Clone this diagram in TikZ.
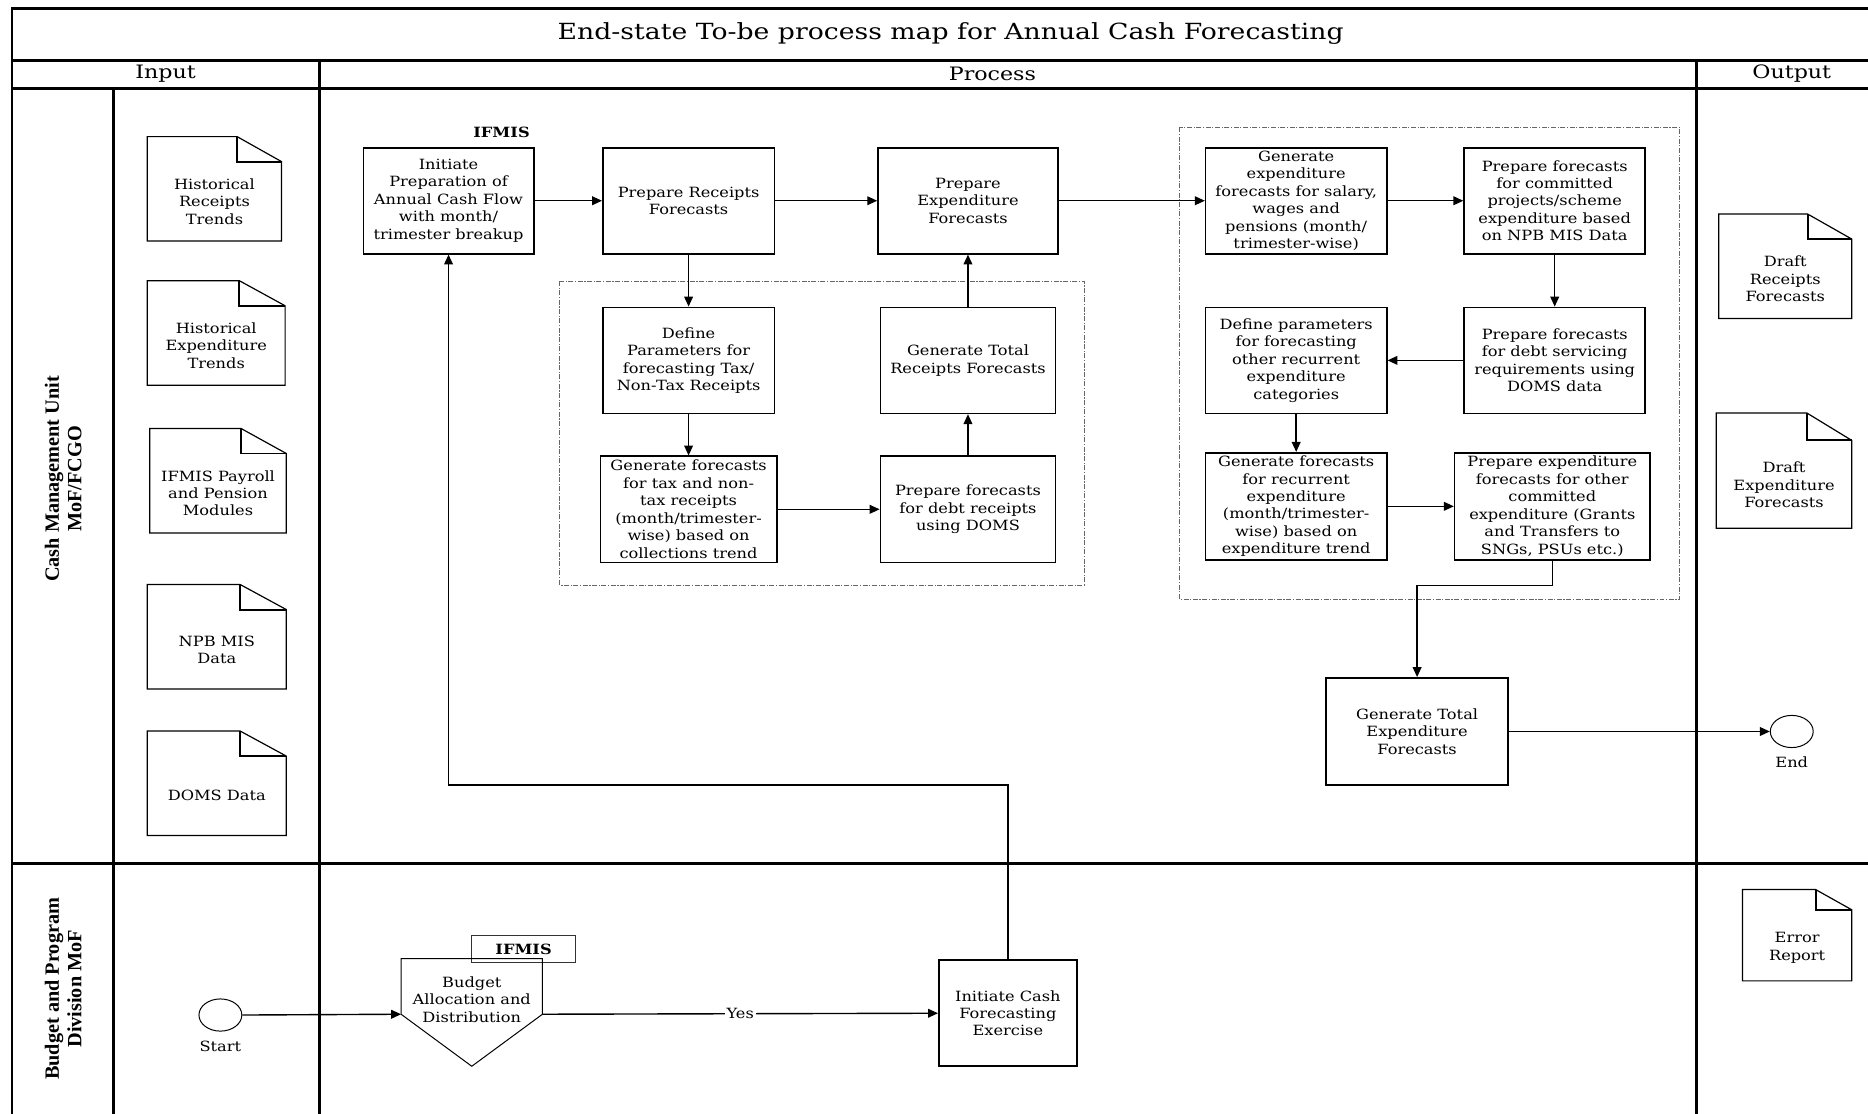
\documentclass[tikz,border=0pt]{standalone}
\usepackage{fontspec}
\setmainfont{DejaVu Serif}
\newfontfamily\bodyfam{DejaVu Serif}[FakeStretch=1.15]
\newfontfamily\titlefam{DejaVu Serif}[FakeStretch=1.2]
\newfontfamily\lanefam{Liberation Serif}
\usetikzlibrary{arrows.meta,calc,shapes.geometric}

% document symbol with a folded top-right corner:
% name, centre x, centre y, width, height, text y, text, fold depth
\newcommand\docnode[8]{%
  \node[docframe={#4}{#5}] (#1) at (#2,#3) {};
  \node[doctext] (#1-t) at (#2,#6) {#7};
  \draw[docline] (#1.south west) -- (#1.north west)
    -- ($(#1.north east)+(-#4/3,0)$) -- ($(#1.north east)+(0,#8)$)
    -- (#1.south east) -- cycle;
  \draw[foldline] ($(#1.north east)+(-#4/3,0)$) -- ($(#1.north east)+(-#4/3,#8)$)
    -- ($(#1.north east)+(0,#8)$);
}

\begin{document}
\begin{tikzpicture}[x=0.6pt,y=-0.6pt,
  body/.style={font=\bodyfam\fontsize{7.1pt}{8.8pt}\selectfont},
  boldbody/.style={font=\bodyfam\bfseries\fontsize{7.1pt}{8.8pt}\selectfont},
  frameline/.style={line width=1.4pt, line cap=rect},
  pbox/.style 2 args={draw, line width=0.8pt, body, align=center, inner sep=0pt,
    minimum width={#1*0.6pt}, minimum height={#2*0.6pt}},
  flow/.style={line width=0.7pt, -{Triangle[length=5pt,width=4.4pt]}},
  group/.style={draw=black!60, line width=0.45pt,
    dash pattern=on 2.5pt off 0.8pt on 0.6pt off 0.8pt},
  docframe/.style 2 args={inner sep=0pt,
    minimum width={#1*0.6pt}, minimum height={#2*0.6pt}},
  doctext/.style={body, align=center},
  docline/.style={line width=0.6pt},
  foldline/.style={line width=1pt},
  event/.style={ellipse, draw, line width=0.5pt, inner sep=0pt,
    minimum width={36*0.6pt}, minimum height={27*0.6pt}},
  thinline/.style={line width=0.5pt},
  tagbox/.style={draw=black!80, line width=0.5pt, boldbody, inner sep=0pt,
    minimum width={87*0.6pt}, minimum height={23*0.6pt}},
  titletext/.style={font=\titlefam\fontsize{11.2pt}{13pt}\selectfont},
  headtext/.style={font=\titlefam\fontsize{9.3pt}{10.5pt}\selectfont},
  lanetext/.style={font=\lanefam\bfseries\fontsize{10.2pt}{11.4pt}\selectfont,
    align=center, rotate=90},
  yeslabel/.style={body, fill=white, inner sep=1pt}
]
\useasboundingbox (0,0) rectangle (1568,935);

% swimlane frame
\draw[frameline] (10,940) -- (10,7) -- (1572,7);
\draw[frameline] (10,51) -- (1572,51);
\draw[frameline] (10,74) -- (1572,74);
\draw[frameline] (10,725) -- (1572,725);
\draw[frameline] (95,74) -- (95,940);
\draw[frameline] (268,51) -- (268,940);
\draw[frameline] (1424,51) -- (1424,940);

\node[titletext] (title) at (798,28) {End-state To-be process map for Annual Cash Forecasting};
\node[headtext] (hInput) at (139,62) {Input};
\node[headtext] (hProcess) at (833,62) {Process};
\node[headtext] (hOutput) at (1504,62) {Output};

\node[lanetext] (laneCMU) at (53,402) {Cash Management Unit\\MoF/FCGO};
\node[lanetext] (laneBPD) at (53,830) {Budget and Program\\Division MoF};

% input documents
\docnode{inHRT}{180}{158.5}{112}{87}{169}{Historical\\Receipts\\Trends}{21}
\docnode{inHET}{181.5}{279.5}{115}{87}{290}{Historical\\Expenditure\\Trends}{21}
\docnode{inPay}{183}{403.5}{114}{87}{414}{IFMIS Payroll\\and Pension\\Modules}{21}
\docnode{inNPB}{182}{534.5}{116}{87}{545.5}{NPB MIS\\Data}{21}
\docnode{inDOMS}{182}{657.5}{116}{87}{668}{DOMS Data}{21}

% output documents
\docnode{outRec}{1498.5}{223.5}{111}{87}{234}{Draft\\Receipts\\Forecasts}{21}
\docnode{outExp}{1497.5}{395}{113}{96}{407}{Draft\\Expenditure\\Forecasts}{23}
\docnode{outErr}{1508.5}{785}{91}{76}{795.5}{Error\\Report}{17}

% grouped sub-processes
\draw[group] (470,236) rectangle (910,491);
\draw[group] (990,107) rectangle (1410,503);

% process steps
\node[boldbody] (ifmisTop) at (421,111) {IFMIS};
\node[pbox={143}{89}] (initiate) at (376.5,168.5) {Initiate\\Preparation of\\Annual Cash Flow\\with month/\\trimester breakup};
\node[pbox={144}{89}] (prepRec) at (578,168.5) {Prepare Receipts\\Forecasts};
\node[pbox={151}{89}] (prepExp) at (812.5,168.5) {Prepare\\Expenditure\\Forecasts};
\node[pbox={144}{89}] (defTax) at (578,302.5) {Define\\Parameters for\\forecasting Tax/\\Non-Tax Receipts};
\node[pbox={147}{89}] (totRec) at (812.5,302.5) {Generate Total\\Receipts Forecasts};
\node[pbox={148}{89}] (genTax) at (578,427.5) {Generate forecasts\\for tax and non-\\tax receipts\\(month/trimester-\\wise) based on\\collections trend};
\node[pbox={147}{89}] (debtRec) at (812.5,427.5) {Prepare forecasts\\for debt receipts\\using DOMS};
\node[pbox={152}{89}] (salary) at (1088,168.5) {Generate\\expenditure\\forecasts for salary,\\wages and\\pensions (month/\\trimester-wise)};
\node[pbox={152}{89}] (committed) at (1305,168.5) {Prepare forecasts\\for committed\\projects/scheme\\expenditure based\\on NPB MIS Data};
\node[pbox={152}{89}] (defRec) at (1088,302.5) {Define parameters\\for forecasting\\other recurrent\\expenditure\\categories};
\node[pbox={152}{89}] (debtServ) at (1305,302.5) {Prepare forecasts\\for debt servicing\\requirements using\\DOMS data};
\node[pbox={152}{90}] (genRec) at (1088,425) {Generate forecasts\\for recurrent\\expenditure\\(month/trimester-\\wise) based on\\expenditure trend};
\node[pbox={164}{90}] (otherCom) at (1303,425) {Prepare expenditure\\forecasts for other\\committed\\expenditure (Grants\\and Transfers to\\SNGs, PSUs etc.)};
\node[pbox={153}{90}] (totExp) at (1189.5,614) {Generate Total\\Expenditure\\Forecasts};
\node[event, label={[body, label distance=1pt]below:End}] (endEv) at (1504,614) {};

% budget lane
\node[event, label={[body, label distance=1pt]below:Start}] (startEv) at (185,852) {};
\node[tagbox] (ifmisTag) at (439.5,796.5) {IFMIS};
\node[inner sep=0pt, minimum width={118*0.6pt}, minimum height={46*0.6pt}] (budget) at (396,828) {};
\coordinate (budgetTip) at (396,895);
\draw[thinline] (budget.north west) -- (budget.north east) -- (budget.south east)
  -- (budgetTip) -- (budget.south west) -- cycle;
\node[body, align=center] (budgetText) at (396,839) {Budget\\Allocation and\\Distribution};
\node[pbox={116}{89}] (initCash) at (846,850.5) {Initiate Cash\\Forecasting\\Exercise};
\coordinate (loopTurn) at (846,659);

% connectors
\draw[flow] (startEv.east) -- (budget.south west);
\draw[flow] (budget.south east) -- node[yeslabel] (yes) {Yes} (initCash.west);
\draw[flow] (initCash.north) -- (loopTurn) -| (initiate.south);
\draw[flow] (initiate.east) -- (prepRec.west);
\draw[flow] (prepRec.east) -- (prepExp.west);
\draw[flow] (prepExp.east) -- (salary.west);
\draw[flow] (prepRec.south) -- (defTax.north);
\draw[flow] (defTax.south) -- (genTax.north);
\draw[flow] (genTax.east) -- (debtRec.west);
\draw[flow] (debtRec.north) -- (totRec.south);
\draw[flow] (totRec.north) -- (prepExp.south);
\draw[flow] (salary.east) -- (committed.west);
\draw[flow] (committed.south) -- (debtServ.north);
\draw[flow] (debtServ.west) -- (defRec.east);
\draw[flow] (defRec.south) -- (genRec.north);
\draw[flow] (genRec.east) -- (otherCom.west);
\draw[flow] (otherCom.south) -- ++(0,21) -| (totExp.north);
\draw[flow] (totExp.east) -- (endEv.west);
\end{tikzpicture}
\end{document}
